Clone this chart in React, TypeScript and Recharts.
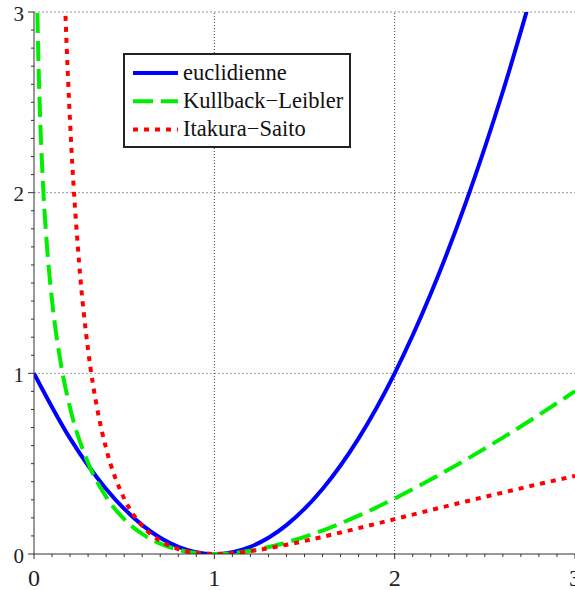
import React from "react";
import { LineChart, Line, XAxis, YAxis, ReferenceLine } from "recharts";

// values
const euclX = [0, 0.2, 0.4, 0.6, 0.8, 1, 1.2, 1.4, 1.6, 1.8, 2, 2.2, 2.4, 2.6, 2.8];
const euclY = [1, 0.64, 0.36, 0.16, 0.04, 0, 0.04, 0.16, 0.36, 0.64, 1, 1.44, 1.96, 2.56, 3.24];

const klX = [0.01, 0.02, 0.03, 0.05, 0.075, 0.1, 0.15, 0.2, 0.3, 0.4, 0.5, 0.6, 0.7, 0.8, 0.9, 1, 1.2, 1.4, 1.6, 1.8, 2, 2.2, 2.4, 2.6, 2.8, 3];
const klY = [3.615, 2.932, 2.537, 2.046, 1.665, 1.403, 1.047, 0.809, 0.504, 0.316, 0.193, 0.111, 0.057, 0.023, 0.005, 0, 0.018, 0.064, 0.13, 0.212, 0.307, 0.412, 0.525, 0.644, 0.77, 0.901];

const isX = [0.15, 0.175, 0.2, 0.25, 0.3, 0.35, 0.4, 0.5, 0.6, 0.7, 0.8, 0.9, 1, 1.2, 1.4, 1.6, 1.8, 2, 2.2, 2.4, 2.6, 2.8, 3];
const isY = [3.77, 2.971, 2.391, 1.614, 1.129, 0.807, 0.584, 0.307, 0.156, 0.072, 0.027, 0.006, 0, 0.016, 0.051, 0.095, 0.143, 0.193, 0.243, 0.292, 0.34, 0.387, 0.432];

const majorTicks = [0, 1, 2, 3];
const tickLabels = ["0", "1", "2", "3"];
const minorTicks = [
  0, 0.1, 0.2, 0.3, 0.4, 0.5, 0.6, 0.7, 0.8, 0.9,
  1, 1.1, 1.2, 1.3, 1.4, 1.5, 1.6, 1.7, 1.8, 1.9,
  2, 2.1, 2.2, 2.3, 2.4, 2.5, 2.6, 2.7, 2.8, 2.9, 3,
];

const series = [
  { name: "euclidienne", color: "#0000ff", dash: undefined, xs: euclX, ys: euclY },
  { name: "Kullback\u2212Leibler", color: "#00ee00", dash: "20 8", xs: klX, ys: klY },
  { name: "Itakura\u2212Saito", color: "#ff0000", dash: "5 6", xs: isX, ys: isY },
];

const FONT = "Liberation Serif, Times New Roman, serif";

const labelFor = (v: number) => {
  const i = majorTicks.findIndex(m => Math.abs(m - v) < 1e-6);
  return i >= 0 ? tickLabels[i] : null;
};

function XTick({ x, y, payload }: any) {
  const lab = labelFor(payload.value);
  return (
    <g>
      <line x1={x} x2={x} y1={y} y2={y + (lab ? 5 : 3)} stroke="#333" />
      {lab && (
        <text x={x} y={y + 32} textAnchor="middle" style={{ fontFamily: FONT }} fontSize={24} fill="#222">
          {lab}
        </text>
      )}
    </g>
  );
}

function YTick({ x, y, payload }: any) {
  const lab = labelFor(payload.value);
  return (
    <g>
      <line x1={x - (lab ? 6 : 3)} x2={x} y1={y} y2={y} stroke="#333" />
      {lab && (
        <text x={x - 10} y={y + 8.5} textAnchor="end" style={{ fontFamily: FONT }} fontSize={21} fill="#222">
          {lab}
        </text>
      )}
    </g>
  );
}

function LegendBox() {
  return (
    <svg width={228} height={95} style={{ display: "block", position: "absolute", left: 123, top: 53 }}>
      <rect x={1} y={1} width={226} height={93} fill="#fff" stroke="#222" strokeWidth={2} />
      {series.map((s, i) => {
        const cy = 20 + i * 28.3;
        return (
          <g key={s.name}>
            <line x1={10} x2={55} y1={cy} y2={cy} stroke={s.color} strokeWidth={4} strokeDasharray={s.dash} />
            <text x={60} y={cy + 6.5} style={{ fontFamily: FONT }} fontSize={22.5} fill="#111">
              {s.name}
            </text>
          </g>
        );
      })}
    </svg>
  );
}

export default function App() {
  return (
    <div style={{ position: "absolute", left: 0, top: 0, width: 575, height: 590, background: "#fff" }}>
      <LineChart width={575} height={590} margin={{ top: 12, right: 0, bottom: 0, left: 0 }}>
        <XAxis
          type="number"
          dataKey="x"
          domain={[0, 3]}
          ticks={minorTicks}
          interval={0}
          allowDataOverflow
          tickSize={0}
          tickMargin={0}
          tickLine={false}
          tick={<XTick />}
          height={36}
          stroke="#333"
        />
        <YAxis
          type="number"
          dataKey="y"
          domain={[0, 3]}
          ticks={minorTicks}
          interval={0}
          allowDataOverflow
          tickSize={0}
          tickMargin={0}
          tickLine={false}
          tick={<YTick />}
          width={34}
          stroke="#333"
        />
        {[1, 2, 3].map(v => (
          <ReferenceLine key={"h" + v} y={v} stroke="#999" strokeDasharray="2 2" />
        ))}
        {[1, 2].map(v => (
          <ReferenceLine key={"v" + v} x={v} stroke="#444" strokeDasharray="1 2" />
        ))}
        {series.map(s => (
          <Line
            key={s.name}
            name={s.name}
            data={s.xs.map((x, i) => ({ x, y: s.ys[i] }))}
            dataKey="y"
            type="monotone"
            stroke={s.color}
            strokeWidth={4}
            strokeDasharray={s.dash}
            dot={false}
            activeDot={false}
            isAnimationActive={false}
          />
        ))}
      </LineChart>
      <LegendBox />
    </div>
  );
}
